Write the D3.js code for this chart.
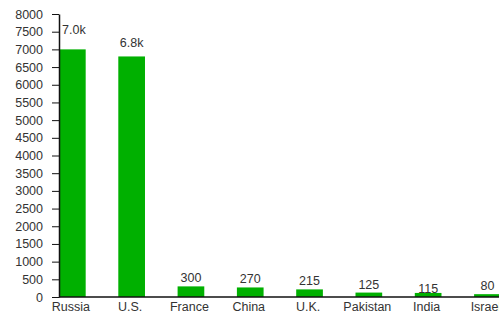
<!DOCTYPE html>
<html>
<head>
    <script src="https://d3js.org/d3.v7.min.js"></script>
    <style>
        body { margin: 0; background: #fff; }
        svg text { font-family: "Liberation Sans", Arial, sans-serif; fill: #333; }
    </style>
</head>
<body>
    <div id="chart"></div>
    <script>
// data
const countries = ["Russia", "U.S.", "France", "China", "U.K.", "Pakistan", "India", "Israel"];
const warheads = [7000, 6800, 300, 270, 215, 125, 115, 80];
const valueLabels = ["7.0k", "6.8k", "300", "270", "215", "125", "115", "80"];
const yTicks = d3.range(0, 8001, 500);

const svg = d3.select("#chart").append("svg").attr("width", 499).attr("height", 316);
const margin = { top: 14, left: 59, bottom: 19 };
const height = 316 - margin.top - margin.bottom;

const x = d3.scaleBand().domain(countries).range([margin.left, margin.left + 8 * 59.3]).padding(0);
const y = d3.scaleLinear().domain([0, 8000]).range([margin.top + height, margin.top]);
const barW = x.bandwidth() * 0.45;

// bars
svg.selectAll(".bar")
    .data(countries)
    .enter().append("rect")
    .attr("class", "bar")
    .attr("x", d => x(d))
    .attr("y", (d, i) => y(warheads[i]))
    .attr("width", barW)
    .attr("height", (d, i) => y(0) - y(warheads[i]))
    .style("fill", "#00b000");

// value labels (a few sit higher/lower like the original)
const lift = { "Russia": 15, "U.S.": 9, "India": 0 };
svg.selectAll(".val")
    .data(countries)
    .enter().append("text")
    .attr("class", "val")
    .attr("x", d => x(d) + barW / 2 + (d === "Russia" ? 1.5 : 0))
    .attr("y", (d, i) => y(warheads[i]) - (d in lift ? lift[d] : 4))
    .attr("text-anchor", "middle")
    .style("font-size", "12.5px")
    .text((d, i) => valueLabels[i]);

// y axis
const yAxis = svg.append("g")
    .attr("transform", `translate(${margin.left},0)`)
    .call(d3.axisLeft(y).tickValues(yTicks).tickFormat(d3.format("d"))
        .tickSize(7).tickSizeOuter(0).tickPadding(9));
yAxis.select(".domain").attr("stroke", "#111").attr("stroke-width", 1.5);
yAxis.selectAll(".tick line").attr("stroke", "#111");
yAxis.selectAll("text").style("font-size", "12.5px").style("fill", "#333").attr("font-family", null);

// x axis line
svg.append("line")
    .attr("x1", margin.left).attr("x2", 499)
    .attr("y1", y(0)).attr("y2", y(0))
    .attr("stroke", "#111").attr("stroke-width", 1.5);

// category labels
svg.selectAll(".cat")
    .data(countries)
    .enter().append("text")
    .attr("class", "cat")
    .attr("x", d => x(d) + barW / 2 - 1.5)
    .attr("y", y(0) + 14)
    .attr("text-anchor", "middle")
    .style("font-size", "12.5px")
    .text(d => d);
    </script>
</body>
</html>
